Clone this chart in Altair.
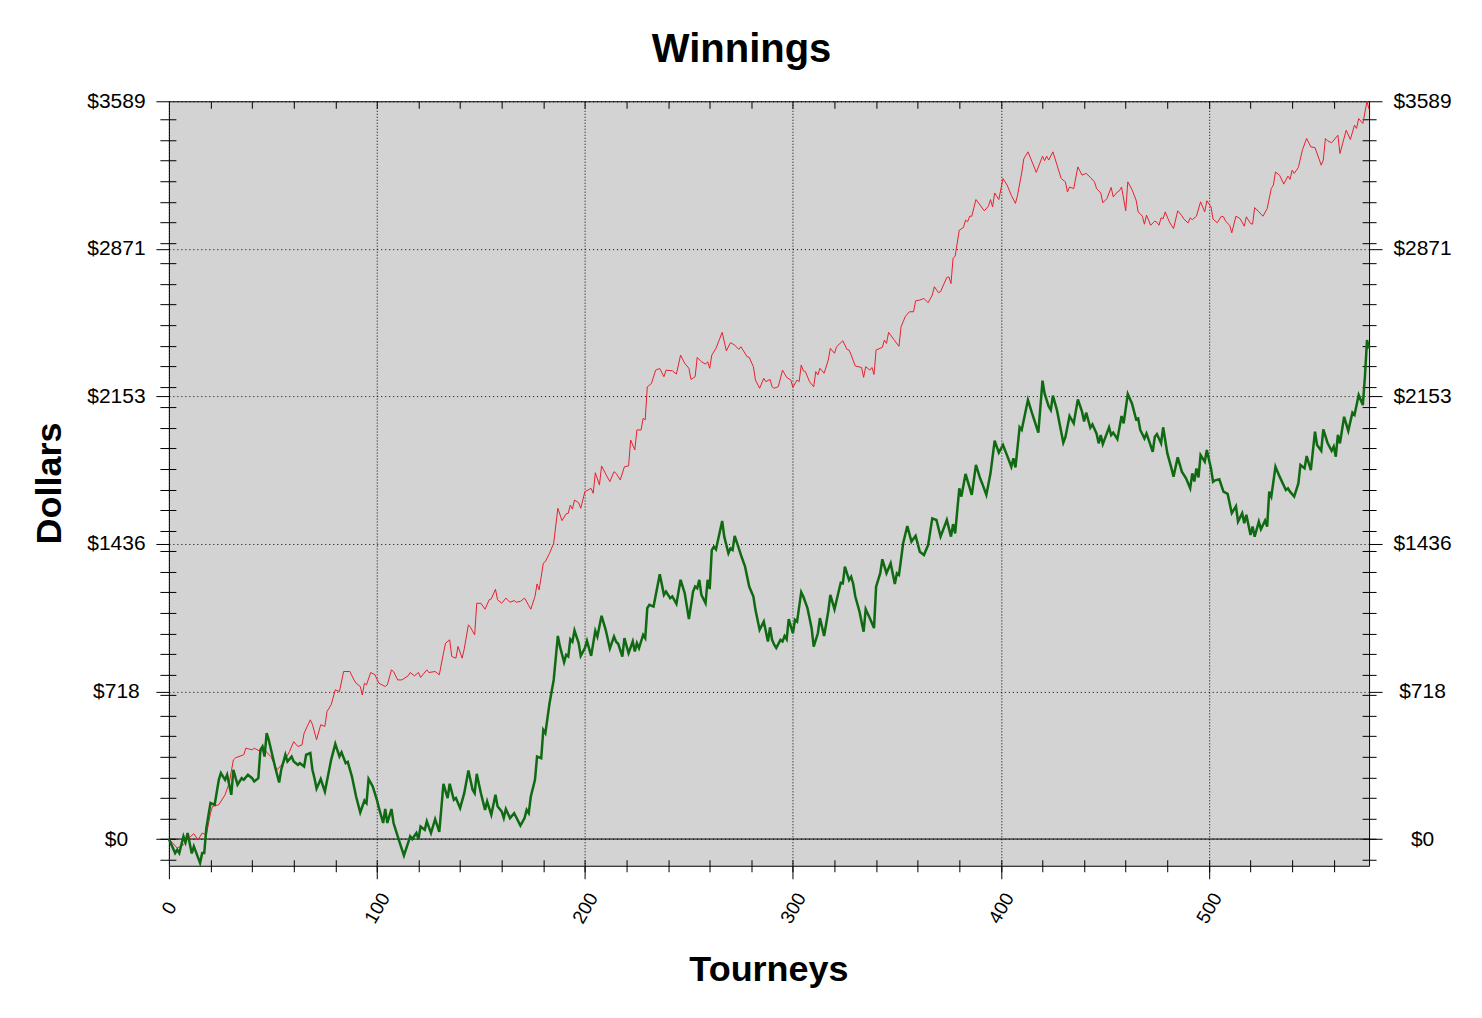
import altair as alt
import pandas as pd

# ---- data (tourney number, dollars) ----
red_points = [
    (0, 0), (4, -44), (7, -28), (9, 0), (12, 26), (14, -5), (16, 29), (18, 20), (20, 126), (21, 159),
    (24, 167), (27, 215), (29, 272), (31, 385), (32, 395), (36, 410), (37, 442), (40, 434), (41, 442),
    (44, 426), (46, 434), (49, 401), (52, 337), (55, 369), (58, 426), (60, 474), (62, 450), (64, 458),
    (65, 515), (68, 580), (69, 558), (71, 483), (73, 556), (75, 548), (76, 620), (78, 653), (80, 726),
    (82, 717), (84, 815), (87, 815), (89, 774), (90, 758), (92, 742), (93, 701), (94, 758), (95, 750),
    (97, 810), (99, 800), (101, 758), (104, 742), (105, 750), (107, 823), (108, 815), (110, 774),
    (112, 774), (115, 794), (116, 810), (118, 794), (120, 810), (121, 786), (124, 823), (125, 810),
    (128, 815), (130, 799), (132, 904), (133, 953), (135, 969), (136, 888), (138, 880), (139, 937),
    (141, 880), (142, 925), (144, 1042), (145, 1030), (147, 993), (148, 1147), (150, 1147), (152, 1118),
    (154, 1164), (155, 1168), (157, 1215), (158, 1164), (160, 1147), (162, 1172), (164, 1152),
    (166, 1160), (167, 1152), (169, 1156), (171, 1172), (174, 1118), (176, 1180), (177, 1241),
    (178, 1212), (180, 1342), (181, 1350), (183, 1390), (185, 1439), (187, 1609), (189, 1549),
    (191, 1582), (192, 1585), (193, 1625), (194, 1605), (195, 1649), (197, 1636), (198, 1609),
    (200, 1690), (203, 1706), (204, 1682), (205, 1782), (207, 1722), (208, 1815), (210, 1776),
    (212, 1739), (214, 1787), (215, 1779), (217, 1747), (219, 1811), (221, 1815), (222, 1941),
    (224, 1893), (225, 1990), (227, 1990), (228, 2047), (229, 2039), (230, 2200), (232, 2216),
    (234, 2281), (236, 2289), (238, 2249), (239, 2281), (242, 2278), (244, 2262), (246, 2354),
    (248, 2314), (250, 2290), (251, 2236), (253, 2249), (254, 2343), (256, 2322), (258, 2310),
    (259, 2322), (260, 2290), (261, 2354), (263, 2387), (266, 2465), (268, 2375), (270, 2415),
    (272, 2403), (274, 2382), (275, 2395), (278, 2346), (279, 2343), (281, 2298), (282, 2233),
    (284, 2193), (286, 2241), (287, 2225), (289, 2236), (290, 2200), (291, 2193), (293, 2201),
    (295, 2281), (297, 2246), (299, 2233), (300, 2197), (302, 2233), (303, 2225), (304, 2306),
    (305, 2278), (306, 2274), (308, 2225), (310, 2200), (311, 2274), (312, 2258), (313, 2290),
    (315, 2266), (317, 2330), (318, 2387), (320, 2363), (321, 2395), (324, 2424), (326, 2382),
    (327, 2379), (328, 2355), (330, 2301), (333, 2294), (334, 2246), (335, 2298), (337, 2281),
    (338, 2294), (339, 2260), (340, 2379), (343, 2392), (344, 2427), (345, 2411), (346, 2465),
    (349, 2424), (351, 2397), (352, 2492), (354, 2541), (356, 2565), (358, 2565), (359, 2618),
    (361, 2622), (363, 2630), (365, 2609), (367, 2646), (368, 2687), (370, 2658), (371, 2663),
    (374, 2732), (375, 2735), (376, 2702), (377, 2825), (378, 2836), (380, 2962), (382, 2975),
    (383, 3011), (384, 3003), (385, 3030), (386, 3030), (388, 3111), (390, 3084), (392, 3056),
    (394, 3079), (395, 3111), (396, 3075), (397, 3143), (399, 3111), (401, 3213), (403, 3181),
    (405, 3132), (407, 3092), (408, 3132), (410, 3241), (411, 3309), (413, 3343), (415, 3294),
    (417, 3243), (420, 3322), (421, 3300), (422, 3322), (423, 3303), (425, 3343), (427, 3278),
    (429, 3213), (431, 3197), (432, 3148), (433, 3172), (435, 3164), (437, 3270), (439, 3230),
    (441, 3238), (443, 3219), (445, 3197), (446, 3164), (448, 3143), (449, 3095), (451, 3116),
    (453, 3170), (454, 3124), (456, 3148), (457, 3154), (458, 3172), (460, 3056), (461, 3197),
    (463, 3160), (465, 3108), (466, 3051), (468, 3030), (469, 2991), (470, 3035), (472, 2986),
    (474, 3006), (475, 3000), (476, 2986), (477, 3022), (478, 3018), (479, 3051), (481, 3002),
    (483, 2970), (485, 3056), (487, 3032), (488, 3016), (490, 2997), (491, 3022), (492, 3013),
    (494, 3030), (496, 3100), (498, 3051), (499, 3105), (501, 3075), (502, 3016), (504, 2998),
    (506, 3030), (507, 3027), (508, 3006), (510, 2985), (511, 2949), (513, 3030), (515, 3018),
    (517, 2981), (518, 3027), (520, 2995), (521, 2991), (522, 3072), (524, 3051), (526, 3030),
    (528, 3067), (530, 3165), (531, 3181), (532, 3245), (534, 3229), (536, 3186), (538, 3225),
    (539, 3209), (540, 3254), (541, 3238), (543, 3267), (545, 3354), (547, 3408), (549, 3367),
    (551, 3364), (554, 3278), (555, 3303), (556, 3408), (557, 3397), (559, 3387), (562, 3424),
    (563, 3335), (566, 3448), (568, 3403), (570, 3473), (571, 3457), (572, 3505), (574, 3481),
    (576, 3589), (577, 3549),
]

green_points = [
    (0, 0), (3, -68), (4, -52), (5, -68), (7, 13), (8, -16), (9, 29), (11, -70), (12, -36), (15, -117),
    (16, -68), (17, -68), (18, 53), (20, 175), (22, 167), (24, 288), (25, 321), (27, 288), (28, 313),
    (30, 215), (31, 337), (33, 264), (35, 296), (36, 288), (38, 313), (40, 296), (41, 280), (43, 296),
    (44, 434), (45, 450), (46, 401), (47, 515), (48, 483), (51, 353), (53, 275), (54, 337), (56, 410),
    (57, 377), (59, 401), (60, 377), (62, 361), (63, 369), (65, 353), (66, 410), (68, 418), (69, 337),
    (70, 296), (71, 245), (73, 292), (75, 231), (78, 385), (80, 463), (82, 402), (83, 422), (85, 369),
    (86, 375), (88, 304), (90, 207), (92, 129), (94, 187), (95, 175), (96, 292), (98, 256), (100, 191),
    (101, 150), (103, 78), (104, 146), (105, 78), (107, 146), (108, 78), (111, -19), (113, -80),
    (115, -19), (116, 13), (117, 0), (119, 29), (120, 0), (121, 61), (123, 45), (124, 86), (126, 29),
    (128, 97), (130, 35), (132, 269), (134, 199), (135, 269), (137, 191), (138, 199), (140, 150),
    (142, 223), (144, 333), (146, 240), (147, 223), (148, 317), (150, 223), (152, 142), (153, 183),
    (155, 118), (157, 215), (158, 160), (160, 134), (161, 102), (162, 146), (164, 102), (166, 126),
    (169, 65), (171, 102), (172, 142), (173, 126), (174, 207), (176, 288), (177, 401), (179, 393),
    (180, 531), (181, 515), (183, 661), (185, 774), (187, 988), (188, 937), (190, 860), (191, 896),
    (192, 888), (193, 972), (194, 960), (195, 1014), (197, 953), (198, 891), (200, 929), (201, 964),
    (203, 891), (205, 1013), (206, 985), (208, 1086), (210, 1018), (212, 927), (214, 985), (215, 960),
    (216, 950), (218, 888), (219, 977), (221, 904), (223, 961), (224, 912), (225, 953), (226, 929),
    (228, 993), (229, 977), (230, 1123), (231, 1139), (233, 1131), (236, 1288), (238, 1188),
    (239, 1204), (241, 1172), (242, 1180), (244, 1144), (246, 1261), (248, 1196), (250, 1070),
    (252, 1204), (253, 1228), (254, 1220), (255, 1261), (256, 1188), (258, 1147), (259, 1261),
    (260, 1216), (261, 1406), (262, 1422), (263, 1409), (264, 1455), (266, 1547), (267, 1471),
    (269, 1390), (270, 1414), (271, 1406), (272, 1475), (274, 1414), (275, 1382), (277, 1325),
    (279, 1228), (281, 1180), (282, 1115), (284, 1018), (286, 1058), (288, 961), (289, 1030),
    (290, 969), (291, 945), (292, 929), (294, 969), (295, 961), (296, 988), (297, 972), (298, 1070),
    (300, 1001), (301, 1066), (302, 1058), (304, 1201), (305, 1180), (307, 1123), (309, 1026),
    (310, 936), (312, 1001), (313, 1075), (315, 988), (317, 1107), (318, 1188), (320, 1118),
    (322, 1204), (323, 1247), (324, 1244), (325, 1325), (327, 1260), (328, 1276), (329, 1241),
    (330, 1180), (332, 1107), (334, 1009), (335, 1118), (337, 1074), (339, 1026), (340, 1228),
    (342, 1293), (343, 1361), (345, 1293), (347, 1342), (349, 1241), (350, 1293), (351, 1285),
    (353, 1439), (355, 1523), (357, 1447), (359, 1475), (361, 1398), (363, 1382), (365, 1430),
    (367, 1560), (369, 1552), (371, 1471), (374, 1552), (376, 1471), (377, 1532), (378, 1487),
    (380, 1706), (381, 1666), (383, 1776), (386, 1674), (388, 1820), (390, 1755), (391, 1730),
    (393, 1674), (395, 1779), (397, 1938), (399, 1880), (401, 1917), (403, 1865), (405, 1811),
    (406, 1852), (407, 1808), (409, 2003), (410, 1990), (413, 2136), (415, 2071), (418, 1977),
    (420, 2230), (421, 2168), (423, 2104), (424, 2087), (425, 2157), (427, 2084), (430, 1928),
    (431, 1955), (433, 2058), (435, 2022), (437, 2139), (439, 2079), (440, 2031), (441, 2074),
    (443, 2001), (444, 2017), (446, 1972), (447, 1925), (448, 1965), (449, 1921), (452, 2003),
    (453, 1965), (454, 1977), (456, 1945), (458, 2058), (459, 2022), (461, 2165), (463, 2119),
    (465, 2042), (466, 2046), (467, 1990), (469, 1949), (470, 1973), (473, 1884), (474, 1957),
    (475, 1970), (477, 1925), (478, 2003), (480, 1877), (482, 1803), (483, 1763), (485, 1857),
    (487, 1787), (489, 1755), (491, 1706), (492, 1779), (493, 1739), (494, 1803), (495, 1759),
    (496, 1868), (498, 1836), (499, 1893), (501, 1803), (502, 1738), (503, 1745), (505, 1750),
    (507, 1690), (509, 1679), (511, 1585), (513, 1619), (514, 1544), (516, 1585), (517, 1536),
    (518, 1577), (520, 1479), (521, 1520), (522, 1471), (524, 1544), (525, 1507), (527, 1549),
    (528, 1520), (529, 1690), (530, 1666), (532, 1811), (534, 1763), (537, 1698), (538, 1706),
    (539, 1690), (541, 1666), (543, 1730), (544, 1820), (546, 1804), (547, 1863), (549, 1795),
    (551, 1982), (552, 1917), (554, 1889), (555, 1993), (557, 1928), (559, 1889), (560, 1909),
    (561, 1860), (562, 1966), (563, 1925), (565, 2054), (567, 1986), (569, 2074), (570, 2063),
    (572, 2160), (574, 2111), (575, 2249), (576, 2427), (577, 2387),
]

zero_line = [0]
x_major = [0, 100, 200, 300, 400, 500]
x_minor = list(range(20, 577, 20))
y_major = [0, 718, 1436, 2153, 2871, 3589]
y_minor = list(range(-100, 3600, 100))

red = pd.DataFrame(red_points, columns=["t", "v"])
green = pd.DataFrame(green_points, columns=["t", "v"])
zero = pd.DataFrame({"v": zero_line})

FONT = "Liberation Sans"
RED = "#E8202E"
GREEN = "#0F6A12"

xs = alt.Scale(domain=[0, 577], nice=False, zero=False)
ys = alt.Scale(domain=[-130, 3589], nice=False, zero=False)

base = dict(domain=False, tickColor="black", tickWidth=1, labelColor="black",
            labelFont=FONT, titleFont=FONT, titleColor="black")

x_main = alt.Axis(orient="bottom", values=x_major, tickSize=13, grid=True,
                  gridColor="black", gridDash=[1, 2], gridWidth=1, gridOpacity=1,
                  labelAngle=300, labelAlign="center", labelBaseline="middle",
                  labelPadding=29, labelFontSize=19, labelFlush=False, labelOverlap=False,
                  title="Tourneys", titleFontSize=36, titleFontWeight="bold",
                  titleX=600, titleY=115, titleAlign="center", titleBaseline="alphabetic",
                  **base)
x_bottom_minor = alt.Axis(orient="bottom", values=x_minor, offset=-6, tickSize=12,
                          grid=False, labels=False, title=None, **base)
x_top_minor = alt.Axis(orient="top", values=x_minor, offset=-7, tickSize=7,
                       grid=False, labels=False, title=None, **base)

y_left = alt.Axis(orient="left", values=y_major, format="$d", tickSize=13, grid=True,
                  gridColor="black", gridDash=[1, 3], gridWidth=1, gridOpacity=1,
                  labelAlign="center", labelBaseline="middle", labelPadding=40,
                  labelFontSize=21, labelFlush=False, labelOverlap=False,
                  title="Dollars", titleFontSize=36, titleFontWeight="bold",
                  titleAngle=270, titleX=-108, titleY=382, titleAlign="center",
                  titleBaseline="alphabetic", **base)
y_left_minor = alt.Axis(orient="left", values=y_minor, offset=-7, tickSize=16,
                        grid=False, labels=False, title=None, **base)
y_right = alt.Axis(orient="right", values=y_major, format="$d", tickSize=13, grid=False,
                   labelAlign="center", labelBaseline="middle", labelPadding=40,
                   labelFontSize=21, labelFlush=False, labelOverlap=False, title=None, **base)
y_right_minor = alt.Axis(orient="right", values=y_minor, offset=-7, tickSize=14,
                         grid=False, labels=False, title=None, **base)

zero_layer = alt.Chart(zero).mark_rule(color="black", strokeWidth=1).encode(
    y=alt.Y("v:Q", scale=ys, axis=None)
)
red_layer = alt.Chart(red).mark_line(color=RED, strokeWidth=1).encode(
    x=alt.X("t:Q", scale=xs, axis=x_main),
    y=alt.Y("v:Q", scale=ys, axis=y_left),
)
green_layer = alt.Chart(green).mark_line(color=GREEN, strokeWidth=2.5).encode(
    x=alt.X("t:Q", scale=xs, axis=x_bottom_minor),
    y=alt.Y("v:Q", scale=ys, axis=y_left_minor),
)
guide1 = alt.Chart(red).mark_line(opacity=0).encode(
    x=alt.X("t:Q", scale=xs, axis=x_top_minor),
    y=alt.Y("v:Q", scale=ys, axis=y_right),
)
guide2 = alt.Chart(red).mark_line(opacity=0).encode(
    x=alt.X("t:Q", scale=xs, axis=None),
    y=alt.Y("v:Q", scale=ys, axis=y_right_minor),
)

chart = (
    alt.layer(zero_layer, red_layer, green_layer, guide1, guide2)
    .resolve_scale(x="shared", y="shared")
    .resolve_axis(x="independent", y="independent")
    .properties(
        width=1201,
        height=765,
        background="white",
        padding={"left": 161, "top": 93, "right": 105, "bottom": 150},
        autosize=alt.AutoSizeParams(type="none"),
        title=alt.TitleParams("Winnings", font=FONT, fontSize=40, fontWeight="bold",
                              color="black", anchor="middle", frame="bounds", offset=20),
    )
    .configure_view(fill="#D3D3D3", stroke="black", strokeWidth=1)
)

chart.save("out.html", embed_options={"renderer": "svg", "actions": False})
